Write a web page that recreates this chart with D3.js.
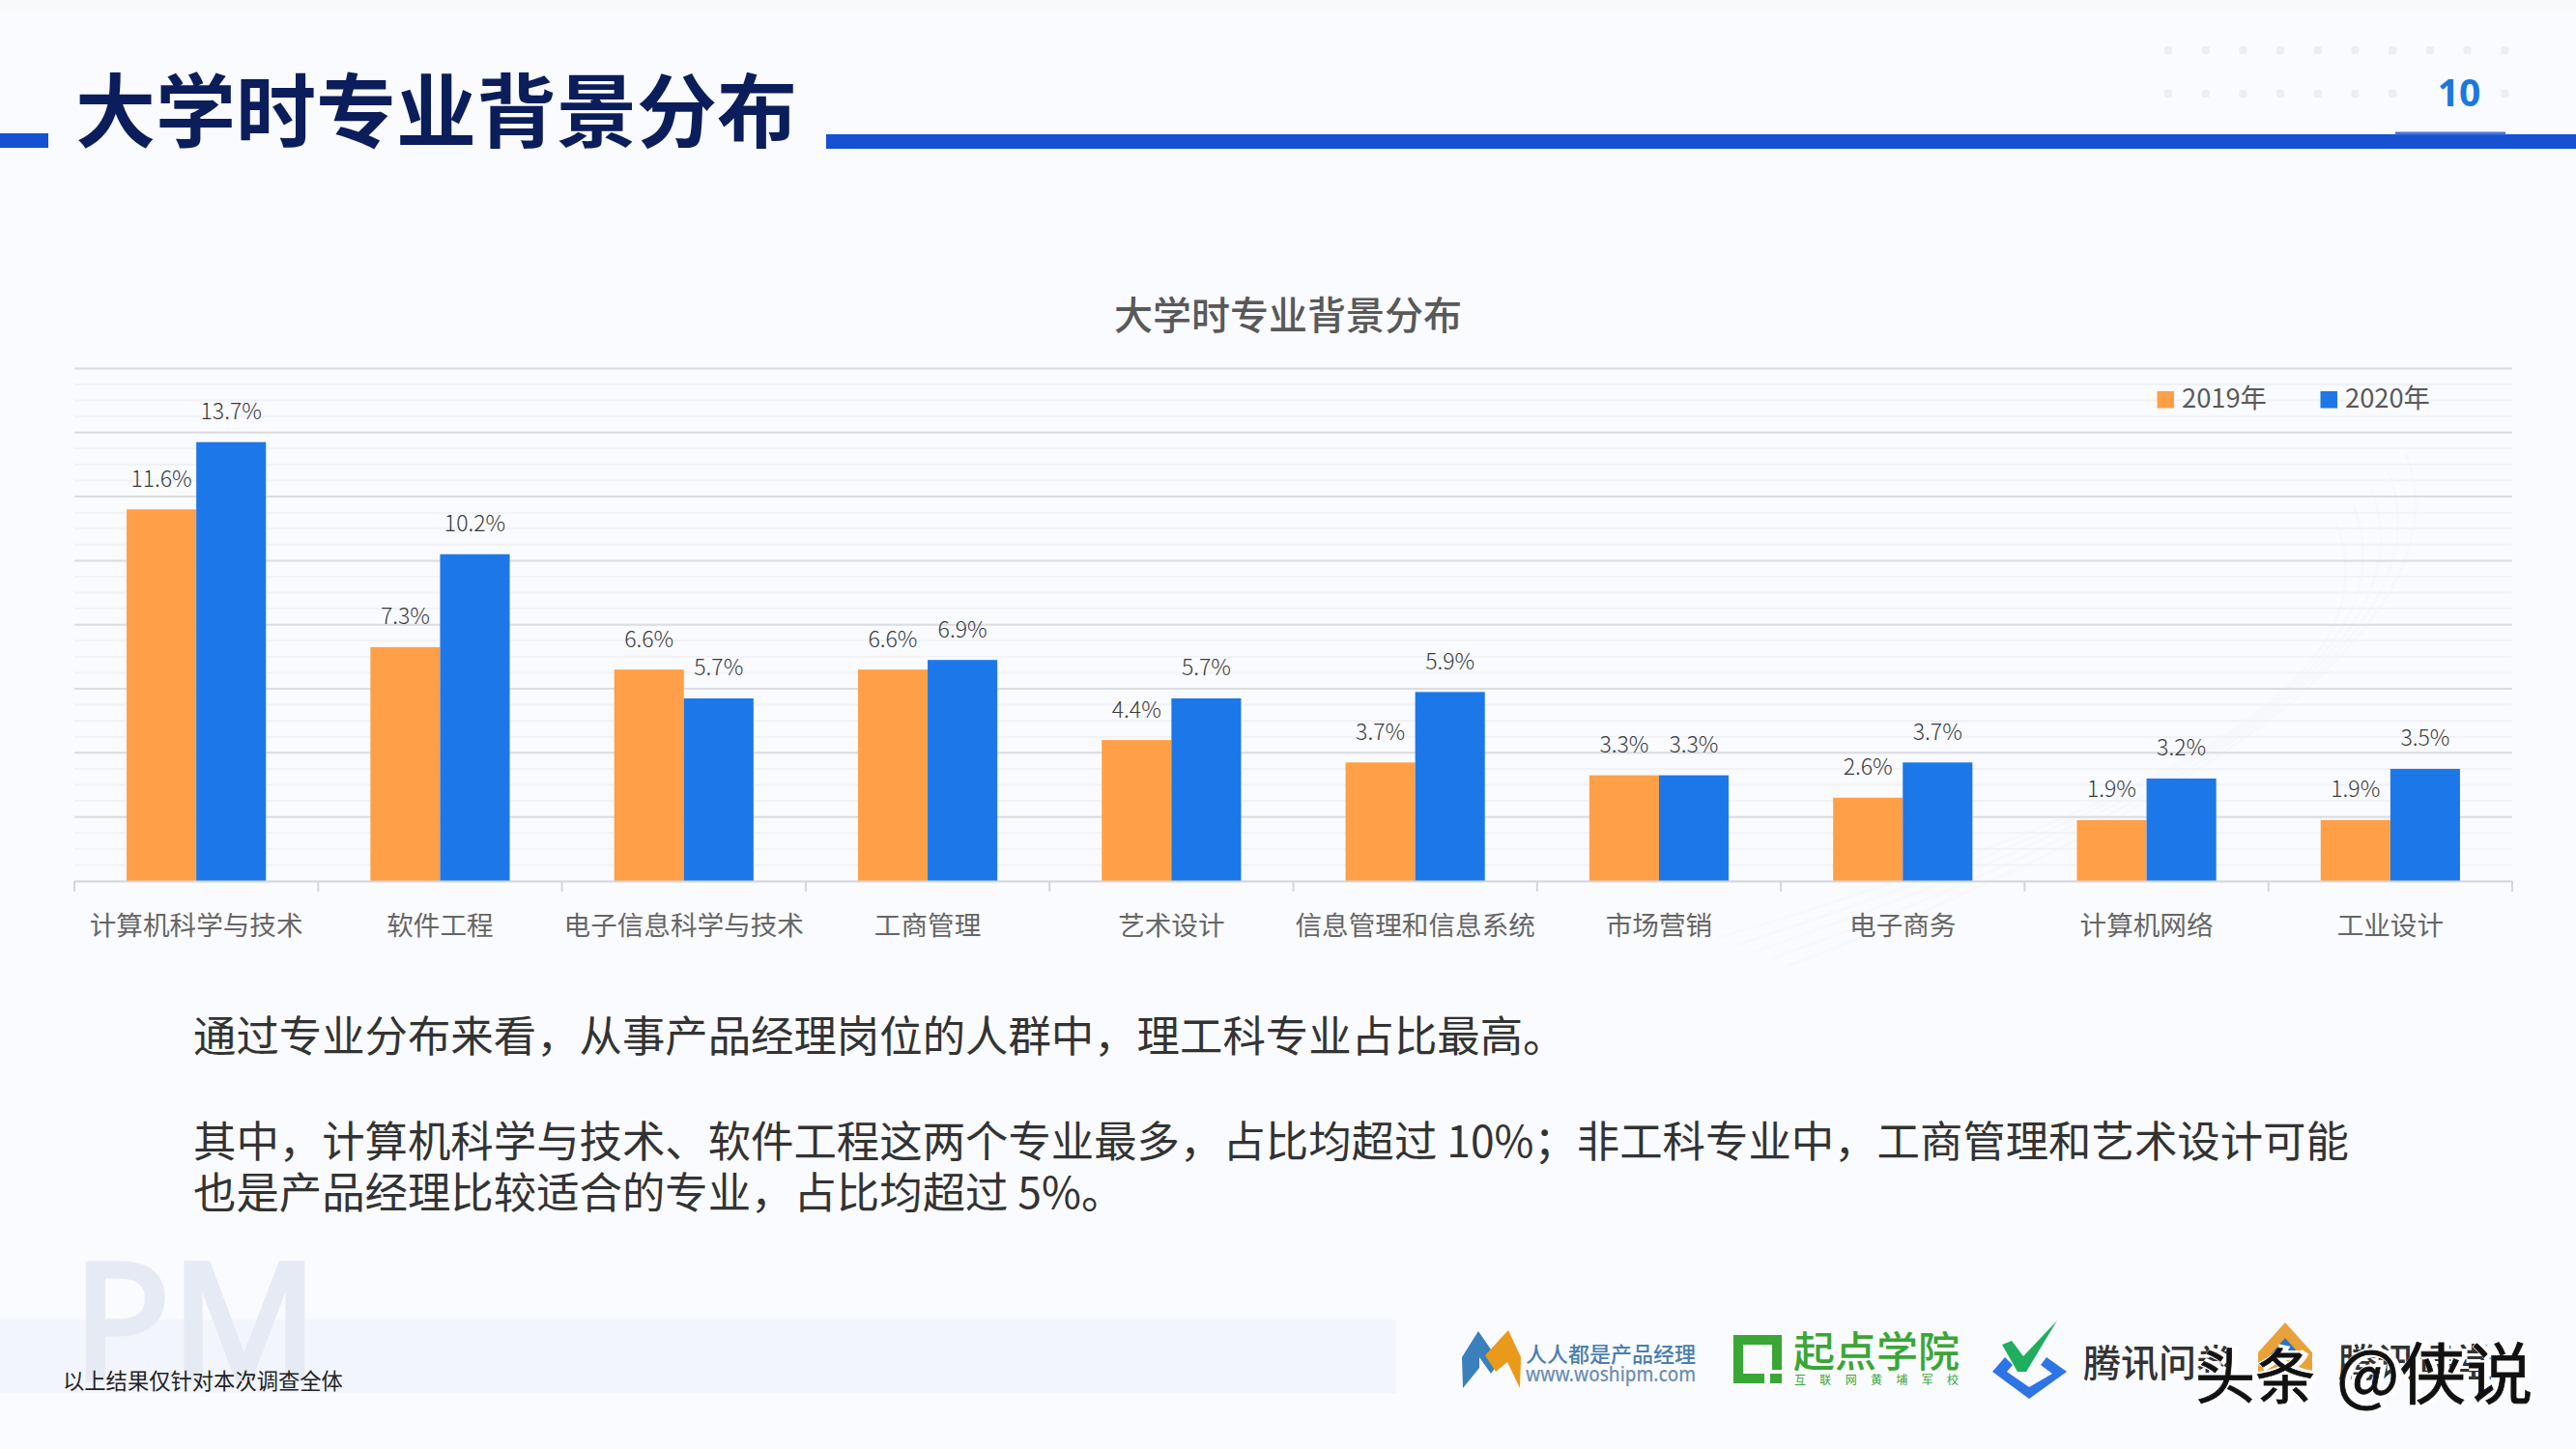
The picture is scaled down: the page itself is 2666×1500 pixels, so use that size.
<!DOCTYPE html>
<html lang="zh">
<head>
<meta charset="utf-8">
<title>大学时专业背景分布</title>
<script src="https://cdnjs.cloudflare.com/ajax/libs/d3/7.8.5/d3.min.js"></script>
<style>
  html, body { margin: 0; padding: 0; background: #fafbfe; }
  svg { display: block; }
  text { font-family: "Noto Sans CJK SC", "Noto Sans", sans-serif; }
</style>
</head>
<body>
<svg id="chart" width="2666" height="1500"></svg>
<script>
const categories = ['计算机科学与技术', '软件工程', '电子信息科学与技术', '工商管理', '艺术设计',
  '信息管理和信息系统', '市场营销', '电子商务', '计算机网络', '工业设计'];
const seriesNames = ['2019年', '2020年'];
const values2019 = [11.6, 7.3, 6.6, 6.6, 4.4, 3.7, 3.3, 2.6, 1.9, 1.9];
const values2020 = [13.7, 10.2, 5.7, 6.9, 5.7, 5.9, 3.3, 3.7, 3.2, 3.5];
const seriesValues = [values2019, values2020];
const bodyLines = [
  '通过专业分布来看，从事产品经理岗位的人群中，理工科专业占比最高。',
  '其中，计算机科学与技术、软件工程这两个专业最多，占比均超过 10%；非工科专业中，工商管理和艺术设计可能',
  '也是产品经理比较适合的专业，占比均超过 5%。'
];
const COLORS = ['#ff9f47', '#1c78e8'];

const svg = d3.select('#chart');

// page background and header
svg.append('rect').attr('width', 2666).attr('height', 1500).attr('fill', '#fafbfe');
svg.append('rect').attr('width', 2666).attr('height', 12).attr('fill', '#f8f9fb');

// faint swoosh behind the chart
const swoosh = svg.append('g').attr('fill', 'none').attr('stroke', '#f7f8fc').attr('stroke-width', 3);
[0, 18, 36, 54, 72].forEach(d => {
  swoosh.append('path')
    .attr('d', `M${1850 - d},${1000 - d * 0.4} C${2250 - d},${850} ${2560 - d},${650 + d} ${2490 - d},${470 + d}`);
});

// dot texture behind the page number
d3.range(10).forEach(i => {
  [52, 97].forEach(cy => {
    if (cy === 97 && (i === 7 || i === 8)) return;
    svg.append('rect').attr('x', 2240 + i * 38.7).attr('y', cy - 4).attr('width', 8).attr('height', 8)
      .attr('rx', 2).attr('fill', '#eceef3');
  });
});

svg.append('rect').attr('x', 0).attr('y', 138).attr('width', 50).attr('height', 15).attr('fill', '#1551d1');
svg.append('rect').attr('x', 855).attr('y', 139).attr('width', 1811).attr('height', 15).attr('fill', '#1551d1');
svg.append('rect').attr('x', 2479).attr('y', 136.5).attr('width', 114).attr('height', 3).attr('fill', '#4a70e0');
svg.append('text').attr('x', 78).attr('y', 146).attr('font-size', 83).attr('font-weight', 700)
  .attr('fill', '#0b1d5a').text('大学时专业背景分布');
svg.append('text').attr('x', 2545).attr('y', 110).attr('text-anchor', 'middle')
  .attr('font-size', 39).attr('font-weight', 700).attr('fill', '#1c78dc')
  .style('font-family', '"Noto Sans", sans-serif').text('10');

// chart
const plotLeft = 77, plotRight = 2600, plotTop = 381.4, plotBottom = 912;
const x = d3.scaleBand().domain(categories).range([plotLeft, plotRight]);
const xInner = d3.scaleBand().domain(seriesNames).range([0, x.bandwidth()]).paddingInner(0).paddingOuter(0.75);
const y = d3.scaleLinear().domain([0, 16]).range([plotBottom, plotTop]);

svg.append('text').attr('x', 1333).attr('y', 341).attr('text-anchor', 'middle')
  .attr('font-size', 40).attr('font-weight', 500).attr('fill', '#595959').text('大学时专业背景分布');

const grid = svg.append('g');
grid.selectAll('line.minor').data(y.ticks(40)).join('line').attr('class', 'minor')
  .attr('x1', plotLeft).attr('x2', plotRight).attr('y1', d => y(d)).attr('y2', d => y(d))
  .attr('stroke', '#f1f2f6').attr('stroke-width', 2);
grid.selectAll('line.major').data(y.ticks(8).filter(d => d > 0)).join('line').attr('class', 'major')
  .attr('x1', plotLeft).attr('x2', plotRight).attr('y1', d => y(d)).attr('y2', d => y(d))
  .attr('stroke', '#dcdde2').attr('stroke-width', 2);

// bars
const groups = svg.append('g').selectAll('g').data(seriesNames).join('g');
groups.selectAll('rect')
  .data((s, i) => categories.map((c, j) => ({ c, s, v: seriesValues[i][j] })))
  .join('rect')
  .attr('x', d => x(d.c) + xInner(d.s))
  .attr('y', d => y(d.v))
  .attr('width', xInner.bandwidth())
  .attr('height', d => plotBottom - y(d.v))
  .attr('fill', (d) => COLORS[seriesNames.indexOf(d.s)]);
groups.selectAll('text')
  .data((s, i) => categories.map((c, j) => ({ c, s, v: seriesValues[i][j] })))
  .join('text')
  .attr('x', d => x(d.c) + xInner(d.s) + xInner.bandwidth() / 2)
  .attr('y', d => y(d.v) - 23.5)
  .attr('text-anchor', 'middle')
  .attr('font-size', 23)
  .attr('font-weight', 300)
  .attr('fill', '#3a3a3a')
  .text(d => d.v.toFixed(1) + '%');

// x axis
const axis = svg.append('g').attr('transform', `translate(0,${plotBottom})`)
  .call(d3.axisBottom(x).tickSize(0).tickPadding(36));
axis.select('.domain').attr('stroke', '#d5d6dc').attr('stroke-width', 2);
axis.selectAll('text').attr('font-size', 27.6).attr('fill', '#666')
  .style('font-family', '"Noto Sans CJK SC", sans-serif');
axis.selectAll('line.edge')
  .data(categories.map(c => x(c)).concat([plotRight]))
  .join('line').attr('class', 'edge')
  .attr('x1', d => d).attr('x2', d => d).attr('y1', 0).attr('y2', 11)
  .attr('stroke', '#d5d6dc').attr('stroke-width', 2);

// legend
seriesNames.forEach((s, i) => {
  const lx = 2232.5 + i * 169;
  svg.append('rect').attr('x', lx).attr('y', 405).attr('width', 17.5).attr('height', 17.5).attr('fill', COLORS[i]);
  svg.append('text').attr('x', lx + 25.5).attr('y', 422).attr('font-size', 27.3).attr('fill', '#595959').text(s);
});

// commentary
[[bodyLines[0], 1089], [bodyLines[1], 1198], [bodyLines[2], 1251]].forEach(([t, by]) => {
  svg.append('text').attr('x', 200).attr('y', by).attr('font-size', 44.4).attr('fill', '#333').text(t);
});

// footer band
svg.append('rect').attr('x', 0).attr('y', 1366).attr('width', 1445).attr('height', 76).attr('fill', '#f2f5fc');
svg.append('text').attr('x', 75).attr('y', 1428).attr('font-size', 168).attr('fill', '#e6eaf4')
  .attr('stroke', '#e6eaf4').attr('stroke-width', 5)
  .style('font-family', '"Noto Sans", sans-serif').text('PM');
svg.append('text').attr('x', 65).attr('y', 1438).attr('font-size', 22.3).attr('fill', '#222')
  .text('以上结果仅针对本次调查全体');

// logos
const logos = svg.append('g');
logos.append('path').attr('d', 'M1513,1405 L1530,1378 L1552,1410 L1543,1422 L1531,1405 L1531,1416 L1514,1437 Z').attr('fill', '#3a80bd');
logos.append('path').attr('d', 'M1537,1403 L1561,1377 L1574,1405 L1573,1437 L1560,1410 L1548,1420 Z').attr('fill', '#ea9a1a');
logos.append('text').attr('x', 1579).attr('y', 1410).attr('font-size', 22).attr('font-weight', 500).attr('fill', '#4a7fae').text('人人都是产品经理');
logos.append('text').attr('x', 1579).attr('y', 1430).attr('font-size', 22).attr('font-weight', 500).attr('fill', '#6c8fb5')
  .attr('textLength', 176).attr('lengthAdjust', 'spacingAndGlyphs')
  .style('font-family', '"Noto Sans", sans-serif').text('www.woshipm.com');
logos.append('path').attr('d', 'M1794,1382 H1844 V1418 H1834 V1392 H1804 V1422 H1826 V1432 H1794 Z').attr('fill', '#3aa635');
logos.append('rect').attr('x', 1832).attr('y', 1422).attr('width', 12).attr('height', 10).attr('fill', '#3aa635');
logos.append('text').attr('x', 1856).attr('y', 1415).attr('font-size', 43).attr('font-weight', 500).attr('fill', '#3aa635').text('起点学院');
logos.append('text').attr('x', 1857).attr('y', 1433).attr('font-size', 12).attr('fill', '#3aa635')
  .attr('textLength', 170).text('互联网黄埔军校');
logos.append('path').attr('d', 'M2072,1392 L2082,1388 L2094,1404 L2129,1367 L2097,1420 L2088,1420 Z').attr('fill', '#1fae5e');
logos.append('path').attr('d', 'M2075,1405 L2062,1420 L2100,1448 L2139,1420 L2118,1405 L2112,1413 L2124,1422 L2100,1436 L2077,1420 L2083,1413 Z').attr('fill', '#2d74e6');
logos.append('text').attr('x', 2156).attr('y', 1425).attr('font-size', 39).attr('font-weight', 500).attr('fill', '#333').text('腾讯问卷');
logos.append('path').attr('d', 'M2365,1369 L2393,1400 L2393,1420 L2337,1420 L2337,1400 Z').attr('fill', '#e9a23b');
logos.append('path').attr('d', 'M2365,1385 L2380,1402 L2350,1402 Z').attr('fill', '#2d74c6');
logos.append('text').attr('x', 2420).attr('y', 1425).attr('font-size', 40).attr('font-weight', 500).attr('fill', '#333').text('腾讯课堂');

// watermark over the logos
const mark = svg.append('g');
[['头条', 2272, 62], ['@侠说', 2418, 69]].forEach(([t, mx, fs]) => {
  mark.append('text').attr('x', mx + 3).attr('y', 1448).attr('fill', '#fff').attr('stroke', '#fff')
    .attr('stroke-width', 6).attr('font-size', fs).text(t);
  mark.append('text').attr('x', mx).attr('y', 1448).attr('fill', '#111').attr('stroke', '#111')
    .attr('stroke-width', 0.8).attr('font-size', fs).text(t);
});
</script>
</body>
</html>
